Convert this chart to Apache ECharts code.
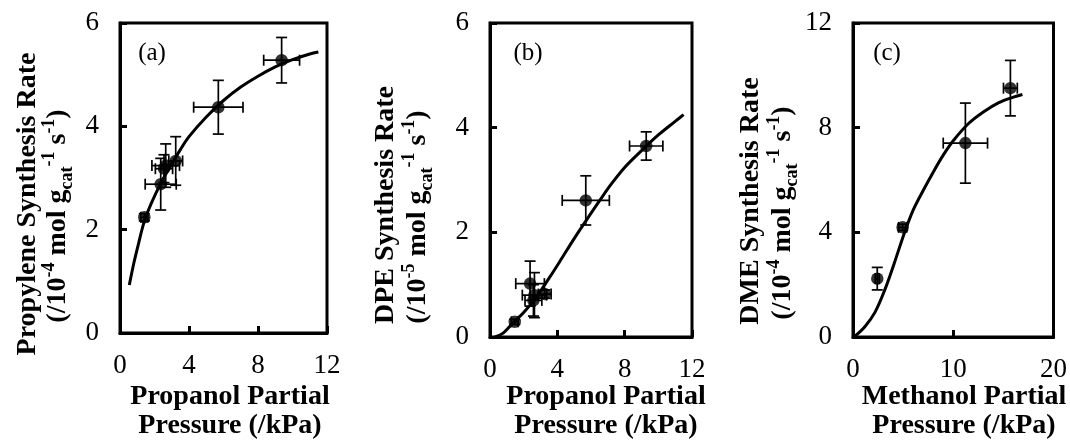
<!DOCTYPE html>
<html>
<head>
<meta charset="utf-8">
<script src="https://cdn.jsdelivr.net/npm/echarts@6/dist/echarts.min.js"></script>
<style>
html,body{margin:0;padding:0;background:#fff;}
#chart{width:1070px;height:440px;}
</style>
</head>
<body>
<div id="chart"></div>
<script>
// ---- Panel (a): propylene ----
const xA = [1.41, 2.36, 2.55, 2.65, 3.23, 5.70, 9.37];
const yA = [2.24, 2.88, 3.18, 3.24, 3.33, 4.37, 5.28];
const xErrA = [0.20, 0.90, 0.50, 0.80, 0.40, 1.43, 1.04];
const yErrA = [0.07, 0.50, 0.27, 0.42, 0.47, 0.52, 0.44];
const curveAX = [0.54, 0.8, 1.0, 1.4, 1.8, 2.4, 3.0, 3.5, 4.0, 5.0, 6.0, 7.0, 8.0, 9.0, 10.0, 11.0, 11.5];
const curveAY = [0.93, 1.35, 1.63, 2.15, 2.5, 2.92, 3.27, 3.55, 3.8, 4.18, 4.5, 4.76, 4.97, 5.15, 5.29, 5.4, 5.44];

// ---- Panel (b): DPE ----
const xB = [1.47, 2.38, 2.64, 2.58, 3.25, 5.69, 9.28];
const yB = [0.29, 1.02, 0.80, 0.70, 0.82, 2.61, 3.65];
const xErrB = [0.20, 0.85, 0.72, 0.50, 0.38, 1.40, 0.99];
const yErrB = [0.05, 0.43, 0.43, 0.30, 0.08, 0.47, 0.27];
const curveBX = [0.3, 0.8, 1.4, 2.0, 2.7, 3.5, 4.2, 5.0, 5.7, 6.5, 7.2, 8.0, 9.0, 10.0, 11.0, 11.5];
const curveBY = [0.0, 0.08, 0.28, 0.47, 0.74, 1.12, 1.47, 1.88, 2.22, 2.6, 2.92, 3.24, 3.56, 3.86, 4.12, 4.25];

// ---- Panel (c): DME ----
const xC = [2.42, 4.95, 11.21, 15.70];
const yC = [2.23, 4.19, 7.41, 9.51];
const xErrC = [0.20, 0.40, 2.21, 0.69];
const yErrC = [0.43, 0.12, 1.53, 1.06];
const curveCX = [0.2, 1.2, 2.2, 3.2, 4.1, 5.1, 6.0, 7.0, 8.0, 9.0, 10.0, 11.5, 13.0, 14.5, 16.0, 16.9];
const curveCY = [0.03, 0.4, 0.95, 1.83, 2.8, 3.95, 4.85, 5.6, 6.3, 6.95, 7.5, 8.15, 8.6, 8.95, 9.17, 9.27];

// axes
const xRanges = [[0, 12, 4], [0, 12, 4], [0, 20, 10]];
const yRanges = [[0, 6, 2], [0, 6, 2], [0, 12, 4]];
const panelLabels = ['(a)', '(b)', '(c)'];
const xTitles = [['Propanol Partial', 'Pressure (/kPa)'], ['Propanol Partial', 'Pressure (/kPa)'], ['Methanol Partial', 'Pressure (/kPa)']];
const yTitleMain = ['Propylene Synthesis Rate', 'DPE Synthesis Rate', 'DME Synthesis Rate'];
const yTitleExp = ['-4', '-5', '-4'];

const FONT = '"Liberation Serif", "Times New Roman", serif';
const grids = [
  {left: 120, top: 23, width: 207, height: 310},
  {left: 490, top: 23, width: 202, height: 314},
  {left: 853, top: 23, width: 202, height: 314}
];

const panels = [
  {x: xA, y: yA, xe: xErrA, ye: yErrA, cx: curveAX, cy: curveAY},
  {x: xB, y: yB, xe: xErrB, ye: yErrB, cx: curveBX, cy: curveBY},
  {x: xC, y: yC, xe: xErrC, ye: yErrC, cx: curveCX, cy: curveCY}
];

function errRender(params, api) {
  const x = api.value(0), y = api.value(1), xe = api.value(2), ye = api.value(3);
  const l = api.coord([x - xe, y]), r = api.coord([x + xe, y]);
  const b = api.coord([x, y - ye]), t = api.coord([x, y + ye]);
  const cap = 5.5;
  const st = {stroke: '#000', lineWidth: 1.7};
  return {
    type: 'group',
    children: [
      {type: 'line', shape: {x1: l[0], y1: l[1], x2: r[0], y2: r[1]}, style: st},
      {type: 'line', shape: {x1: l[0], y1: l[1] - cap, x2: l[0], y2: l[1] + cap}, style: st},
      {type: 'line', shape: {x1: r[0], y1: r[1] - cap, x2: r[0], y2: r[1] + cap}, style: st},
      {type: 'line', shape: {x1: b[0], y1: b[1], x2: t[0], y2: t[1]}, style: st},
      {type: 'line', shape: {x1: b[0] - cap, y1: b[1], x2: b[0] + cap, y2: b[1]}, style: st},
      {type: 'line', shape: {x1: t[0] - cap, y1: t[1], x2: t[0] + cap, y2: t[1]}, style: st}
    ]
  };
}

const option = {
  animation: false,
  backgroundColor: '#fff',
  grid: grids.map(g => Object.assign({show: true, borderColor: '#000', borderWidth: 3, backgroundColor: 'transparent'}, g)),
  xAxis: xRanges.map((r, i) => ({
    type: 'value', gridIndex: i, min: r[0], max: r[1], interval: r[2],
    axisLine: {show: true, onZero: false, lineStyle: {color: '#000', width: 3}},
    axisTick: {show: true, inside: true, length: 7, lineStyle: {color: '#000', width: 3}},
    axisLabel: {color: '#000', fontFamily: FONT, fontSize: 27, margin: 19},
    splitLine: {show: false}
  })),
  yAxis: yRanges.map((r, i) => ({
    type: 'value', gridIndex: i, min: r[0], max: r[1], interval: r[2],
    axisLine: {show: true, onZero: false, lineStyle: {color: '#000', width: 3}},
    axisTick: {show: true, inside: true, length: 7, lineStyle: {color: '#000', width: 3}},
    axisLabel: {color: '#000', fontFamily: FONT, fontSize: 27, margin: 21},
    splitLine: {show: false}
  })),
  series: [],
  graphic: []
};

panels.forEach((p, i) => {
  option.series.push({
    type: 'line', xAxisIndex: i, yAxisIndex: i, smooth: 0.35, showSymbol: false,
    lineStyle: {color: '#000', width: 3}, z: 3,
    data: p.cx.map((v, k) => [v, p.cy[k]])
  });
  option.series.push({
    type: 'custom', xAxisIndex: i, yAxisIndex: i, renderItem: errRender, z: 4,
    data: p.x.map((v, k) => [v, p.y[k], p.xe[k], p.ye[k]])
  });
  option.series.push({
    type: 'scatter', xAxisIndex: i, yAxisIndex: i, symbol: 'circle', symbolSize: 12.5,
    itemStyle: {color: '#000'}, z: 5,
    data: p.x.map((v, k) => [v, p.y[k]])
  });
});

// text positions
const labelPos = [[152, 53], [528, 53], [887, 53]];
const xTitlePos = [[230, 397, 426], [606, 397, 426], [964, 397, 426]];
const yLine1Pos = [[28, 204], [386, 205], [751, 201]];
const yLine2Pos = [[58, 216], [418, 217], [783, 213]];

const rich = {
  m: {fontFamily: FONT, fontWeight: 'bold', fontSize: 28, lineHeight: 36, verticalAlign: 'middle', fill: '#000'},
  sup: {fontFamily: FONT, fontWeight: 'bold', fontSize: 18, lineHeight: 22, verticalAlign: 'top', fill: '#000'},
  sub: {fontFamily: FONT, fontWeight: 'bold', fontSize: 18, lineHeight: 18, verticalAlign: 'bottom', fill: '#000'}
};

for (let i = 0; i < 3; i++) {
  option.graphic.push({
    type: 'text', x: labelPos[i][0], y: labelPos[i][1], z: 10,
    style: {text: panelLabels[i], fontFamily: FONT, fontSize: 25, fill: '#000', align: 'center', verticalAlign: 'middle'}
  });
  option.graphic.push({
    type: 'text', x: xTitlePos[i][0], y: xTitlePos[i][1], z: 10,
    style: {text: xTitles[i][0], fontFamily: FONT, fontWeight: 'bold', fontSize: 28, fill: '#000', align: 'center', verticalAlign: 'middle'}
  });
  option.graphic.push({
    type: 'text', x: xTitlePos[i][0], y: xTitlePos[i][2], z: 10,
    style: {text: xTitles[i][1], fontFamily: FONT, fontWeight: 'bold', fontSize: 28, fill: '#000', align: 'center', verticalAlign: 'middle'}
  });
  option.graphic.push({
    type: 'text', x: yLine1Pos[i][0], y: yLine1Pos[i][1], rotation: Math.PI / 2, z: 10,
    style: {text: yTitleMain[i], fontFamily: FONT, fontWeight: 'bold', fontSize: 28, fill: '#000', align: 'center', verticalAlign: 'middle'}
  });
  option.graphic.push({
    type: 'text', x: yLine2Pos[i][0], y: yLine2Pos[i][1], rotation: Math.PI / 2, z: 10,
    style: {
      text: '{m|(/10}{sup|' + yTitleExp[i] + '}{m| mol g}{sub|cat}{sup|-1}{m| s}{sup|-1}{m|)}',
      rich: rich, align: 'center', verticalAlign: 'middle'
    }
  });
}

const chart = echarts.init(document.getElementById('chart'), null, {renderer: 'canvas'});
chart.setOption(option);
</script>
</body>
</html>
